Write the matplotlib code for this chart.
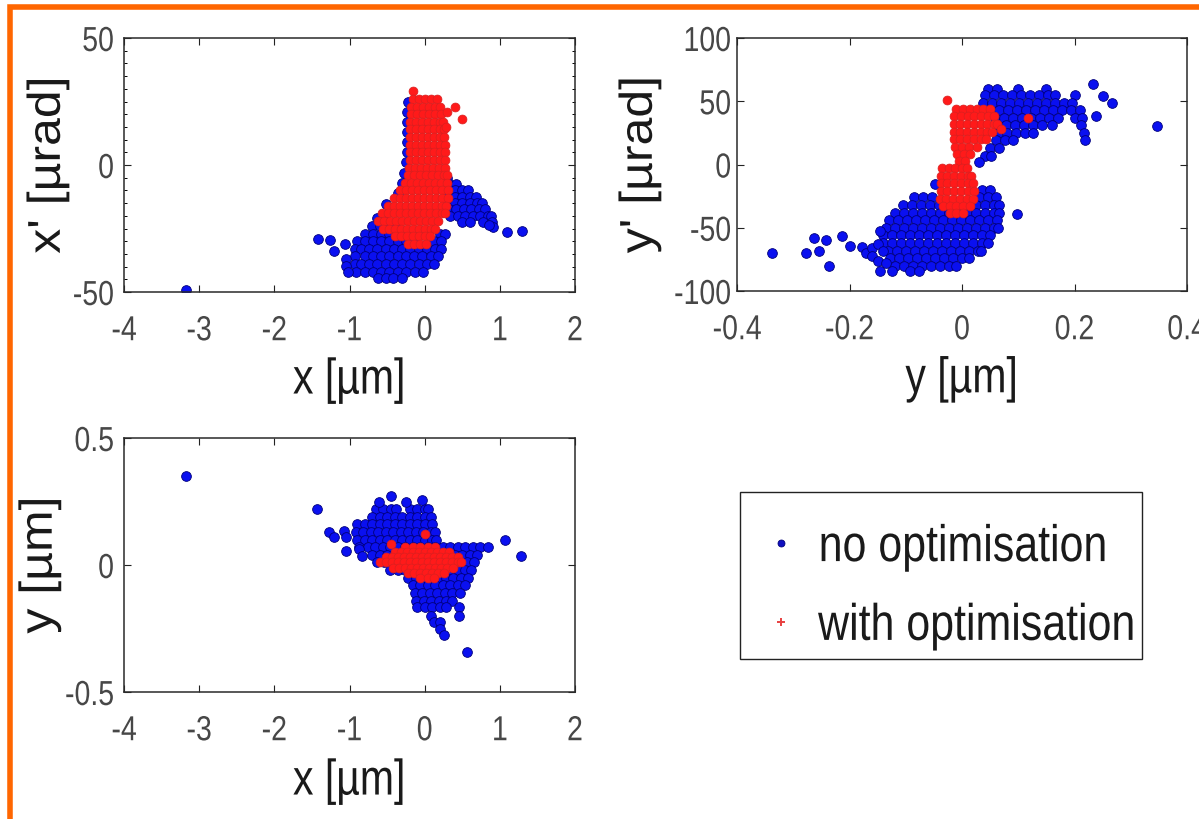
import matplotlib
matplotlib.use("Agg")
import matplotlib.pyplot as plt
from matplotlib.lines import Line2D
from matplotlib.patches import Rectangle
from matplotlib.ticker import MultipleLocator
from matplotlib import patheffects
from matplotlib.transforms import Affine2D

plt.rcParams['font.family'] = ['Liberation Sans', 'DejaVu Sans']
plt.rcParams['axes.unicode_minus'] = False

# ---------------- data: panel 1 (x vs x') ----------------
p1_blue_pts = [(-3.18, -49.3), (-1.42, -29.1), (-1.26, -29.5), (-1.20, -34.0), (-1.06, -31.1),
               (-1.04, -37.0), (-1.04, -39.6), (-1.02, -42.0), (1.09, -26.5), (1.29, -25.9),
               (-0.51, -15.4), (0.91, -24.5), (0.86, -23.5),
               (-0.22, 25), (-0.23, 21), (-0.23, 17), (-0.24, 13), (-0.24, 9), (-0.24, 5),
               (-0.25, 1), (-0.27, -3), (-0.30, -7), (-0.36, -11)]
p1_blue_rows = [
    (-5, [0.30]),
    (-7.5, [0.32, 0.42]),
    (-10, [0.30, 0.40, 0.50, 0.58]),
    (-12.5, [0.30, 0.40, 0.50, 0.60, 0.68]),
    (-15, [0.30, 0.40, 0.50, 0.60, 0.70, 0.76]),
    (-17.5, [0.32, 0.42, 0.52, 0.62, 0.72, 0.80]),
    (-20, [0.34, 0.44, 0.54, 0.64, 0.74, 0.84, 0.88]),
    (-22.5, [0.50, 0.60, 0.78, 0.90]),
    (-21, [-0.64, -0.55]),
    (-24, [-0.70, -0.60, -0.50, -0.40]),
    (-27, [-0.80, -0.69, -0.58, -0.47, -0.36, -0.25, 0.20, 0.27]),
    (-30, [-0.90, -0.80, -0.69, -0.58, -0.47, -0.36, -0.25, -0.14, 0.12, 0.22]),
    (-33, [-0.93, -0.85, -0.74, -0.63, -0.52, -0.41, -0.30, -0.19, -0.08, 0.03, 0.14, 0.22]),
    (-36, [-0.93, -0.80, -0.69, -0.58, -0.47, -0.36, -0.25, -0.14, -0.03, 0.08, 0.18]),
    (-39, [-0.93, -0.85, -0.74, -0.63, -0.52, -0.41, -0.30, -0.19, -0.08, 0.03, 0.12]),
    (-42, [-0.92, -0.80, -0.69, -0.58, -0.47, -0.36, -0.25, -0.13, -0.02]),
    (-44.5, [-0.62, -0.52, -0.42, -0.30]),
]
p1_red_pts = [(0.40, 22.7), (0.50, 18.1), (0.30, 21.0), (0.28, 15.0)]
p1_red_rows = [
    (29, [-0.16]),
    (26, [-0.15, -0.07, 0.01, 0.09, 0.17]),
    (23, [-0.18, -0.10, -0.02, 0.06, 0.14, 0.21]),
    (20, [-0.18, -0.10, -0.02, 0.06, 0.14, 0.22]),
    (17, [-0.19, -0.11, -0.03, 0.05, 0.13, 0.21, 0.25]),
    (14, [-0.19, -0.11, -0.03, 0.05, 0.13, 0.21, 0.26]),
    (11, [-0.20, -0.12, -0.04, 0.04, 0.12, 0.20, 0.26]),
    (8, [-0.20, -0.12, -0.04, 0.04, 0.12, 0.20, 0.27]),
    (5, [-0.20, -0.12, -0.04, 0.04, 0.12, 0.20, 0.27]),
    (2, [-0.20, -0.12, -0.04, 0.04, 0.12, 0.20, 0.27]),
    (-1, [-0.21, -0.13, -0.05, 0.03, 0.11, 0.19, 0.27]),
    (-4, [-0.22, -0.14, -0.06, 0.02, 0.10, 0.18, 0.26, 0.30]),
    (-7, [-0.26, -0.18, -0.10, -0.02, 0.06, 0.14, 0.22, 0.30]),
    (-10, [-0.33, -0.25, -0.17, -0.09, -0.01, 0.07, 0.15, 0.23, 0.31]),
    (-13, [-0.41, -0.33, -0.25, -0.17, -0.09, -0.01, 0.07, 0.15, 0.23, 0.31]),
    (-16, [-0.49, -0.41, -0.33, -0.25, -0.17, -0.09, -0.01, 0.07, 0.15, 0.23, 0.29]),
    (-19, [-0.57, -0.49, -0.41, -0.33, -0.25, -0.17, -0.09, -0.01, 0.07, 0.15, 0.23, 0.27]),
    (-22, [-0.62, -0.54, -0.46, -0.38, -0.30, -0.22, -0.14, -0.06, 0.02, 0.10, 0.18]),
    (-25, [-0.55, -0.47, -0.39, -0.31, -0.23, -0.15, -0.07, 0.01, 0.09, 0.14]),
    (-28, [-0.40, -0.32, -0.24, -0.16, -0.08, 0.00, 0.07]),
    (-31, [-0.22, -0.14, -0.06, 0.02]),
]

# ---------------- data: panel 2 (y vs y') ----------------
p2_blue_pts = [(-0.338, -69.6), (-0.277, -69.6), (-0.264, -58.2), (-0.255, -68.2), (-0.242, -59.6),
               (-0.236, -80.1), (-0.214, -56.4), (-0.199, -64.8), (0.097, -39.3), (0.233, 63.5),
               (0.251, 54.3), (0.266, 49.0), (0.239, 38.3), (0.347, 30.7), (-0.048, -15.5),
               (-0.178, -65), (-0.170, -70), (-0.160, -66), (-0.160, -72), (-0.150, -63),
               (-0.150, -76), (-0.146, -84), (-0.145, -52.4), (-0.140, -68), (-0.135, -78)]
p2_blue_rows = [
    (60, [0.046, 0.062, 0.100, 0.150]),
    (55, [0.040, 0.056, 0.072, 0.088, 0.104, 0.120, 0.136, 0.152, 0.165, 0.200]),
    (49, [0.038, 0.054, 0.070, 0.086, 0.102, 0.118, 0.134, 0.150, 0.166, 0.182, 0.196]),
    (43, [0.050, 0.066, 0.082, 0.098, 0.114, 0.130, 0.146, 0.162, 0.178, 0.194, 0.210]),
    (37, [0.058, 0.074, 0.090, 0.106, 0.122, 0.138, 0.154, 0.170, 0.200, 0.214]),
    (31, [0.062, 0.078, 0.094, 0.110, 0.126, 0.142, 0.160, 0.212]),
    (25, [0.064, 0.080, 0.096, 0.112, 0.126, 0.216]),
    (19, [0.060, 0.076, 0.090, 0.218]),
    (13, [0.050, 0.066]),
    (7, [0.040, 0.052]),
    (2, [0.030]),
    (-20, [0.036, 0.050]),
    (-26, [-0.085, -0.069, -0.053, 0.030, 0.046, 0.060]),
    (-32, [-0.105, -0.089, -0.073, -0.057, -0.041, 0.025, 0.041, 0.057, 0.066]),
    (-38, [-0.120, -0.104, -0.088, -0.072, -0.056, -0.040, -0.024, -0.008, 0.008, 0.024, 0.040, 0.056, 0.066]),
    (-44, [-0.130, -0.114, -0.098, -0.082, -0.066, -0.050, -0.034, -0.018, -0.002, 0.014, 0.030, 0.046, 0.062]),
    (-50, [-0.136, -0.120, -0.104, -0.088, -0.072, -0.056, -0.040, -0.024, -0.008, 0.008, 0.024, 0.040, 0.056, 0.064]),
    (-56, [-0.140, -0.124, -0.108, -0.092, -0.076, -0.060, -0.044, -0.028, -0.012, 0.004, 0.020, 0.036, 0.050]),
    (-62, [-0.140, -0.124, -0.108, -0.092, -0.076, -0.060, -0.044, -0.028, -0.012, 0.004, 0.020, 0.036, 0.046]),
    (-68, [-0.132, -0.116, -0.100, -0.084, -0.068, -0.052, -0.036, -0.020, -0.004, 0.012, 0.028, 0.034]),
    (-74, [-0.128, -0.112, -0.096, -0.080, -0.064, -0.048, -0.032, -0.016, 0.000, 0.012]),
    (-80, [-0.120, -0.104, -0.088, -0.072, -0.056, -0.040, -0.024, -0.010]),
    (-84, [-0.125, -0.092, -0.076]),
]
p2_red_pts = [(-0.027, 51), (0.118, 36.4), (0.070, 28)]
p2_red_rows = [
    (44, [-0.010, 0.002, 0.014, 0.026, 0.038, 0.050]),
    (38, [-0.014, -0.002, 0.010, 0.022, 0.034, 0.046, 0.056]),
    (32, [-0.015, -0.003, 0.009, 0.021, 0.033, 0.045, 0.057, 0.062]),
    (26, [-0.015, -0.003, 0.009, 0.021, 0.033, 0.045, 0.054]),
    (20, [-0.015, -0.003, 0.009, 0.021, 0.033, 0.043]),
    (14, [-0.012, 0.000, 0.012, 0.026]),
    (8, [-0.009, 0.003, 0.015]),
    (3, [-0.006, 0.006]),
    (-3, [-0.036, -0.024, -0.012, 0.000, 0.008]),
    (-9, [-0.038, -0.026, -0.014, -0.002, 0.010, 0.016]),
    (-15, [-0.038, -0.026, -0.014, -0.002, 0.010, 0.020]),
    (-21, [-0.038, -0.026, -0.014, -0.002, 0.010, 0.021]),
    (-27, [-0.040, -0.028, -0.016, -0.004, 0.008, 0.020]),
    (-33, [-0.034, -0.022, -0.010, 0.002, 0.014]),
    (-38, [-0.022, -0.010, 0.002]),
]

# ---------------- data: panel 3 (x vs y) ----------------
p3_blue_pts = [(-3.18, 0.352), (-1.43, 0.220), (-1.27, 0.129), (-1.20, 0.109), (-1.07, 0.135),
               (-1.05, 0.109), (-1.04, 0.056), (-0.87, 0.063), (-0.83, 0.034), (1.07, 0.098),
               (1.28, 0.034), (0.56, -0.341), (-0.61, 0.247), (-0.45, 0.273), (-0.25, 0.247),
               (-0.03, 0.257)]
p3_blue_rows = [
    (0.22, [-0.65, -0.55, -0.45, -0.38, -0.20, -0.10, 0.00, 0.04]),
    (0.19, [-0.70, -0.60, -0.50, -0.40, -0.30, -0.20, -0.10, 0.00, 0.08]),
    (0.16, [-0.90, -0.80, -0.70, -0.60, -0.50, -0.40, -0.30, -0.20, -0.10, 0.00, 0.10]),
    (0.13, [-0.92, -0.82, -0.72, -0.62, -0.52, -0.42, -0.32, -0.22, -0.12, -0.02, 0.08, 0.14]),
    (0.10, [-0.90, -0.80, -0.70, -0.60, -0.50, -0.40, -0.30, -0.20, -0.10, 0.00, 0.10, 0.15]),
    (0.07, [-0.88, -0.76, -0.66, -0.56, -0.46, -0.36, -0.26, -0.16, -0.06, 0.04, 0.14, 0.24, 0.34,
            0.44, 0.54, 0.64, 0.74, 0.84]),
    (0.04, [-0.70, -0.60, -0.50, -0.40, -0.30, -0.20, -0.10, 0.00, 0.10, 0.20, 0.30, 0.40, 0.50,
            0.60, 0.70]),
    (0.01, [-0.64, -0.54, -0.44, -0.34, -0.24, -0.14, -0.04, 0.06, 0.16, 0.26, 0.36, 0.46, 0.56, 0.66]),
    (-0.02, [-0.46, -0.36, -0.26, -0.16, -0.06, 0.04, 0.14, 0.24, 0.34, 0.44, 0.54, 0.62]),
    (-0.05, [-0.22, -0.12, -0.02, 0.08, 0.18, 0.28, 0.38, 0.48, 0.58]),
    (-0.08, [-0.16, -0.06, 0.04, 0.14, 0.24, 0.34, 0.44, 0.54]),
    (-0.11, [-0.13, -0.03, 0.07, 0.17, 0.27, 0.37, 0.47]),
    (-0.14, [-0.11, -0.01, 0.09, 0.19, 0.29, 0.36]),
    (-0.165, [-0.10, 0.00, 0.10, 0.20, 0.28, 0.46]),
    (-0.20, [0.08, 0.46]),
    (-0.225, [0.12, 0.20]),
    (-0.25, [0.20]),
    (-0.275, [0.26]),
]
p3_red_pts = [(-0.45, 0.083), (0.00, 0.122)]
p3_red_rows = [
    (0.07, [-0.26, -0.16, -0.06, 0.04, 0.14]),
    (0.05, [-0.40, -0.32, -0.24, -0.16, -0.08, 0.00, 0.08, 0.16, 0.24, 0.32]),
    (0.03, [-0.52, -0.44, -0.36, -0.28, -0.20, -0.12, -0.04, 0.04, 0.12, 0.20, 0.28, 0.36, 0.44]),
    (0.01, [-0.60, -0.52, -0.44, -0.36, -0.28, -0.20, -0.12, -0.04, 0.04, 0.12, 0.20, 0.28, 0.36,
            0.44, 0.48]),
    (-0.01, [-0.42, -0.34, -0.26, -0.18, -0.10, -0.02, 0.06, 0.14, 0.22, 0.30, 0.38]),
    (-0.03, [-0.22, -0.14, -0.06, 0.02, 0.10, 0.18, 0.26]),
    (-0.05, [-0.06, 0.04, 0.12]),
]

# ---------------- axes setup data ----------------
p1_xticks = [-4, -3, -2, -1, 0, 1, 2]
p1_yticks = [-50, 0, 50]
p2_xticks = [-0.4, -0.2, 0, 0.2, 0.4]
p2_yticks = [-100, -50, 0, 50, 100]
p3_xticks = [-4, -3, -2, -1, 0, 1, 2]
p3_yticks = [-0.5, 0, 0.5]
legend_labels = ['no optimisation', 'with optimisation']


def collect(rows, pts):
    xs, ys = [], []
    for y, row in rows:
        xs.extend(row)
        ys.extend([y] * len(row))
    for x, y in pts:
        xs.append(x)
        ys.append(y)
    return xs, ys


class Squeeze(patheffects.AbstractPathEffect):
    """Narrow a text horizontally (on screen) around a chosen anchor."""

    def __init__(self, sx=0.82, anchor='center'):
        super().__init__()
        self.sx = sx
        self.anchor = anchor

    def draw_path(self, renderer, gc, tpath, affine, rgbFace=None):
        ext = tpath.get_extents(affine)
        if self.anchor == 'left':
            cx = ext.x0
        elif self.anchor == 'right':
            cx = ext.x1
        else:
            cx = 0.5 * (ext.x0 + ext.x1)
        t = affine + Affine2D().translate(-cx, 0).scale(self.sx, 1.0).translate(cx, 0)
        renderer.draw_path(gc, tpath, t, rgbFace)


W, H = 1199, 820
fig = plt.figure(figsize=(W / 100, H / 100), dpi=100)
fig.patch.set_facecolor('white')

BLUE = '#0a10f0'
BLUE_EDGE = '#00007a'
RED = '#ff1a1a'
RED_EDGE = '#d82020'
TICK_COLOR = '#474747'
LABEL_COLOR = '#1a1a1a'
SQ = 0.82


def make_axes(rect, xlim, ylim, xticks, yticks, xlabel, ylabel, blue, red, ypad, ylab_x, xlab_y):
    ax = fig.add_axes(rect)
    bx, by = blue
    rx, ry = red
    ax.plot(bx, by, ls='none', marker='o', ms=7.0, mfc=BLUE, mec=BLUE_EDGE, mew=0.6, zorder=2)
    ax.plot(rx, ry, ls='none', marker='o', ms=6.4, mfc=RED, mec=RED_EDGE, mew=0.5, zorder=3)
    ax.set_xlim(xlim)
    ax.set_ylim(ylim)
    ax.set_xticks(xticks)
    ax.set_yticks(yticks)
    xl = ax.set_xticklabels(['%g' % v for v in xticks])
    yl = ax.set_yticklabels(['%g' % v for v in yticks])
    ax.tick_params(direction='in', top=True, right=True, length=5, width=0.8,
                   labelsize=25, labelcolor=TICK_COLOR, color='#222222')
    ax.tick_params(axis='x', pad=16)
    ax.tick_params(axis='y', pad=ypad)
    for t in xl:
        t.set_path_effects([Squeeze(SQ, 'center')])
    for t in yl:
        t.set_path_effects([Squeeze(SQ, 'right')])
    for s in ax.spines.values():
        s.set_linewidth(1.1)
        s.set_color('#2a2a2a')
    xlab = ax.set_xlabel(xlabel, fontsize=36, color=LABEL_COLOR)
    ylab = ax.set_ylabel(ylabel, fontsize=36, color=LABEL_COLOR)
    xlab.set_path_effects([Squeeze(SQ, 'center')])
    ylab.set_path_effects([Squeeze(0.92, 'right')])
    ax.xaxis.set_label_coords(0.5, xlab_y)
    ax.yaxis.set_label_coords(ylab_x, 0.5)
    return ax


ax1 = make_axes([124 / W, 1 - 293 / H, 451 / W, 254 / H], (-4, 2), (-50, 50), p1_xticks, p1_yticks,
                'x [µm]', "x' [µrad]", collect(p1_blue_rows, p1_blue_pts),
                collect(p1_red_rows, p1_red_pts), 7, -0.122, -0.258)
ax1.yaxis.set_minor_locator(MultipleLocator(5))
ax1.tick_params(axis='y', which='minor', direction='in', left=True, right=True, length=2.5, width=0.7)

ax2 = make_axes([737 / W, 1 - 292 / H, 450 / W, 253 / H], (-0.4, 0.4), (-100, 100), p2_xticks, p2_yticks,
                'y [µm]', "y' [µrad]", collect(p2_blue_rows, p2_blue_pts),
                collect(p2_red_rows, p2_red_pts), 4, -0.169, -0.258)

ax3 = make_axes([124 / W, 1 - 693 / H, 451 / W, 254 / H], (-4, 2), (-0.5, 0.5), p3_xticks, p3_yticks,
                'x [µm]', 'y [µm]', collect(p3_blue_rows, p3_blue_pts),
                collect(p3_red_rows, p3_red_pts), 7, -0.140, -0.262)

handles = [Line2D([], [], ls='none', marker='o', ms=5, mfc='#1010c0', mec=BLUE_EDGE, mew=0.6),
           Line2D([], [], ls='none', marker='+', ms=6, mec='#e84040', mew=1.4)]
leg = fig.legend(handles, legend_labels, loc='upper left',
                 bbox_to_anchor=(740 / W, 1 - 502 / H), bbox_transform=fig.transFigure,
                 fontsize=37, frameon=False,
                 borderpad=0.43, labelspacing=0.58, handlelength=0.74, handletextpad=0.35,
                 borderaxespad=0)
for t in leg.get_texts():
    t.set_color(LABEL_COLOR)
    t.set_path_effects([Squeeze(0.835, 'left')])
# legend frame
fig.add_artist(Rectangle((740 / W, 1 - 660 / H), 402 / W, 167 / H, transform=fig.transFigure,
                         fill=False, ec='#222222', lw=1.0))

# orange frame around the figure (only top and left edges visible)
fig.add_artist(Rectangle((10.5 / W, -0.1), 1.2, 1.1 - 8 / H, transform=fig.transFigure,
                         fill=False, ec='#ff6600', lw=4.0, clip_on=False))

fig.savefig('out.png', dpi=100, facecolor='white')
